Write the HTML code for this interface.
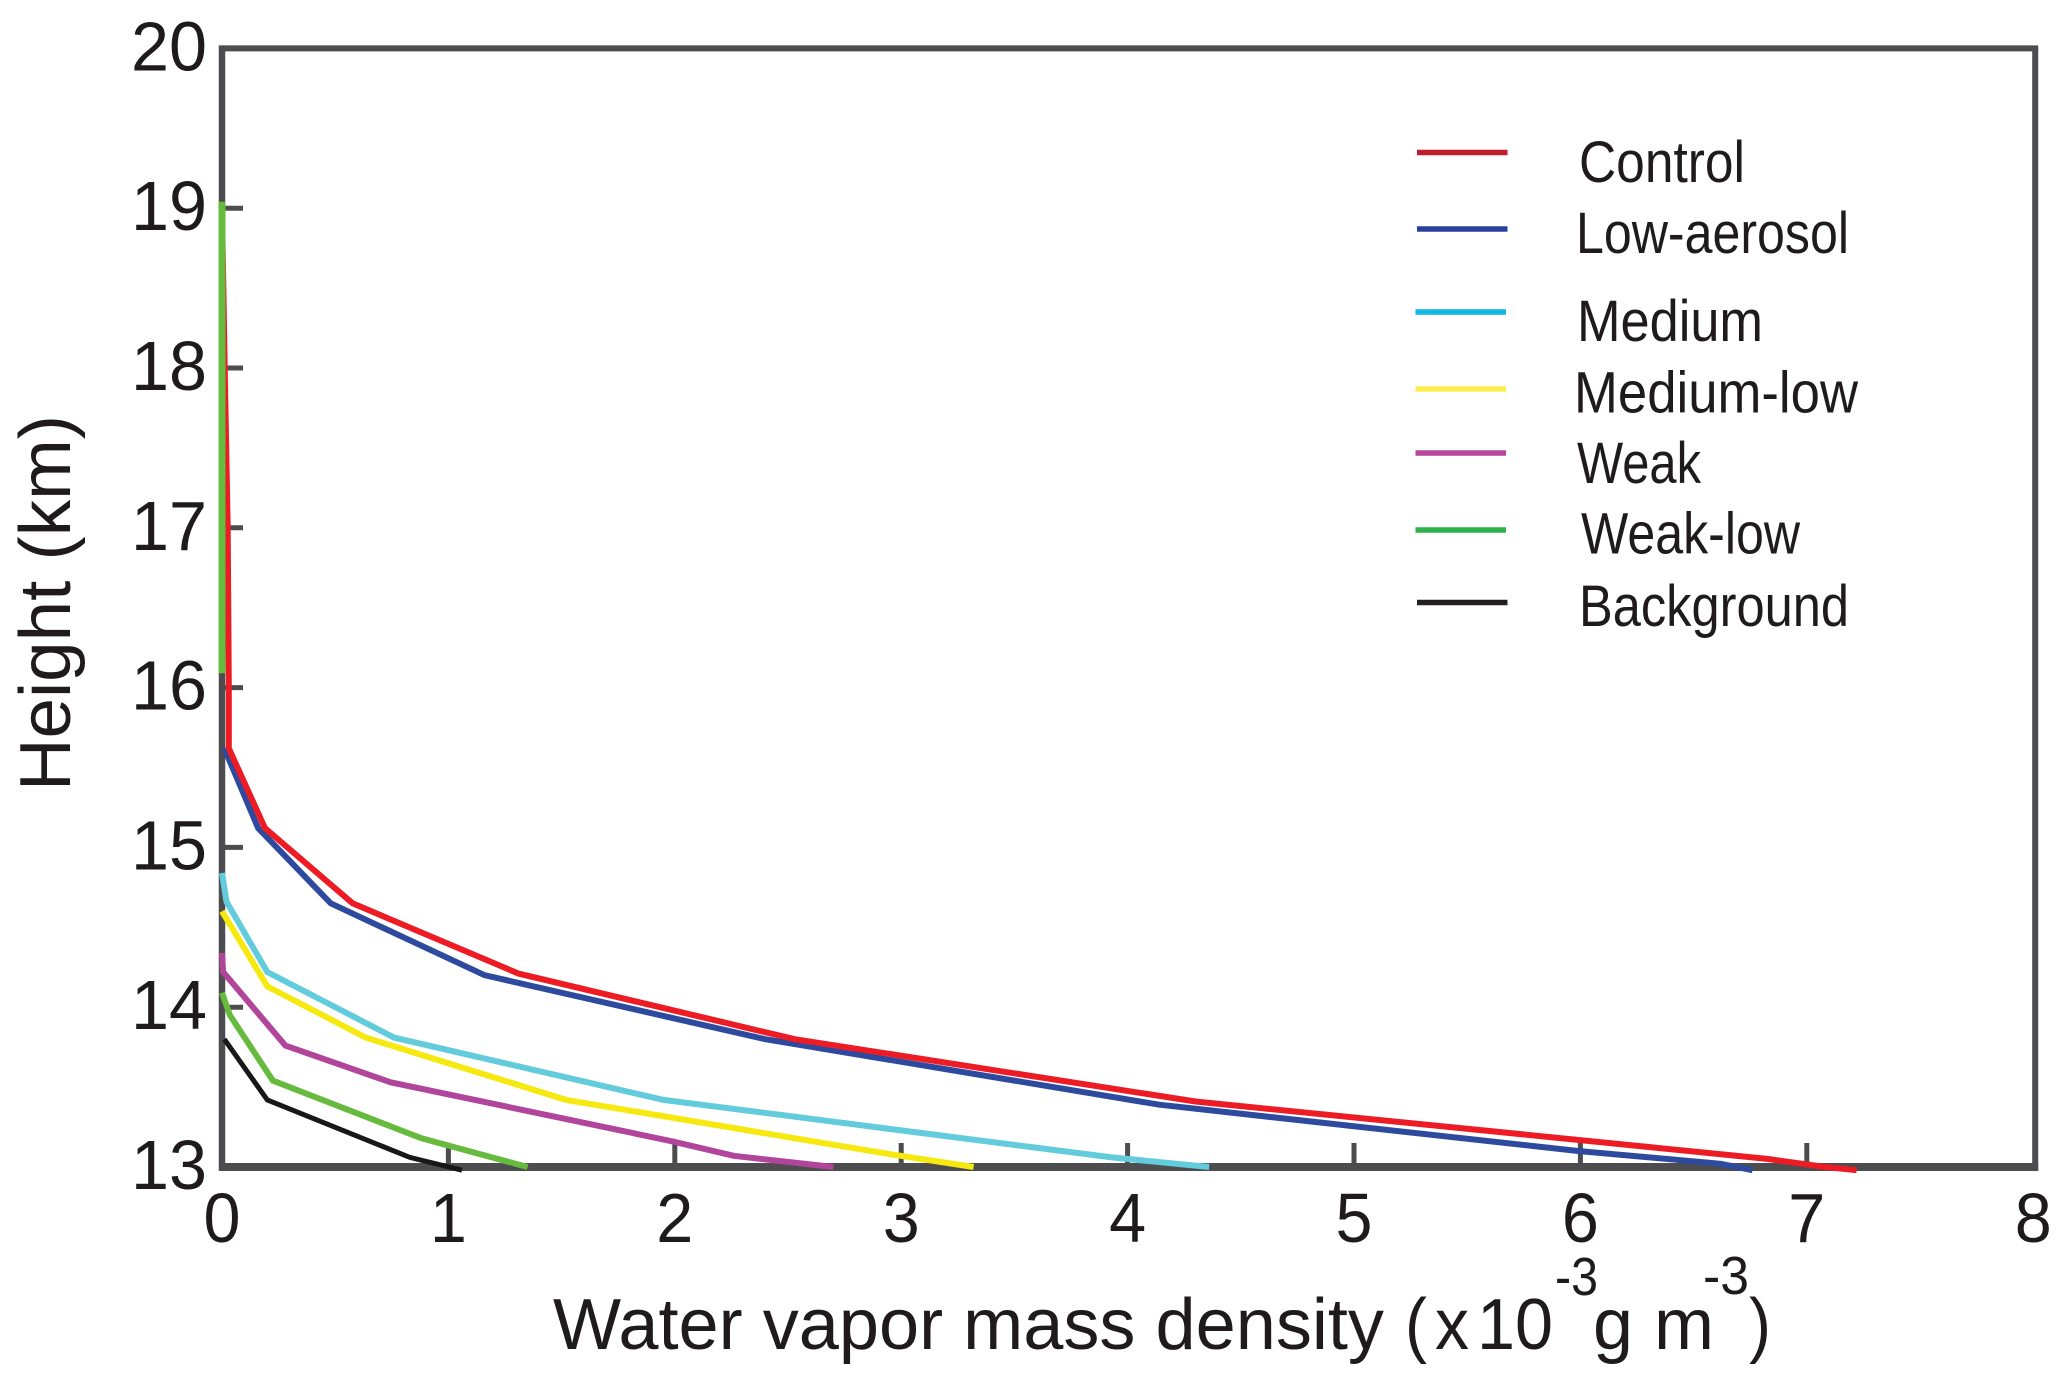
<!DOCTYPE html>
<html lang="en">
<head>
<meta charset="utf-8">
<title>Water vapor mass density profile</title>
<style>
  html, body { margin: 0; padding: 0; background: #fff; }
  svg { display: block; }
  text { font-family: "Liberation Sans", sans-serif; fill: #1f1b1c; }
</style>
</head>
<body>
<svg id="chart" xmlns="http://www.w3.org/2000/svg" width="2067" height="1385" viewBox="0 0 2067 1385">
  <rect x="0" y="0" width="2067" height="1385" fill="#ffffff"/>

  <g id="ticks"></g>
  <g id="tick-labels"></g>
  <g id="frame"></g>
  <g id="series"></g>

  <text transform="translate(70,791) rotate(-90)" font-size="72" textLength="376" lengthAdjust="spacingAndGlyphs">Height (km)</text>

  <g font-size="72">
    <text x="553" y="1349" textLength="831" lengthAdjust="spacingAndGlyphs">Water vapor mass density</text>
    <text x="1405" y="1349" textLength="22" lengthAdjust="spacingAndGlyphs">(</text>
    <text x="1435" y="1349" textLength="34" lengthAdjust="spacingAndGlyphs">x</text>
    <text x="1477" y="1349" textLength="76" lengthAdjust="spacingAndGlyphs">10</text>
    <text x="1555" y="1295" font-size="54" textLength="43" lengthAdjust="spacingAndGlyphs">-3</text>
    <text x="1593" y="1349" textLength="40" lengthAdjust="spacingAndGlyphs">g</text>
    <text x="1654" y="1349" textLength="60" lengthAdjust="spacingAndGlyphs">m</text>
    <text x="1703" y="1294" font-size="54" textLength="46" lengthAdjust="spacingAndGlyphs">-3</text>
    <text x="1749" y="1349" textLength="22" lengthAdjust="spacingAndGlyphs">)</text>
  </g>

  <g font-size="58">
    <g>
      <line x1="1417" x2="1507.5" y1="152.5" y2="152.5" stroke="#be1e2d" stroke-width="5.5"/>
      <text x="1579" y="182" textLength="166" lengthAdjust="spacingAndGlyphs">Control</text>
    </g>
    <g>
      <line x1="1417" x2="1507.5" y1="229" y2="229" stroke="#2b3f9e" stroke-width="5.5"/>
      <text x="1576" y="253" textLength="273" lengthAdjust="spacingAndGlyphs">Low-aerosol</text>
    </g>
    <g>
      <line x1="1415.5" x2="1506" y1="312" y2="312" stroke="#0fb9e0" stroke-width="5.5"/>
      <text x="1577" y="341" textLength="186" lengthAdjust="spacingAndGlyphs">Medium</text>
    </g>
    <g>
      <line x1="1415.5" x2="1506" y1="389" y2="389" stroke="#fdee4f" stroke-width="5.5"/>
      <text x="1574" y="412.5" textLength="284" lengthAdjust="spacingAndGlyphs">Medium-low</text>
    </g>
    <g>
      <line x1="1415.5" x2="1506" y1="453" y2="453" stroke="#b9459c" stroke-width="5.5"/>
      <text x="1577" y="483" textLength="124" lengthAdjust="spacingAndGlyphs">Weak</text>
    </g>
    <g>
      <line x1="1415.5" x2="1506" y1="530" y2="530" stroke="#2bb34a" stroke-width="5.5"/>
      <text x="1581" y="553.5" textLength="219" lengthAdjust="spacingAndGlyphs">Weak-low</text>
    </g>
    <g>
      <line x1="1417" x2="1507.5" y1="602.5" y2="602.5" stroke="#231f20" stroke-width="5.5"/>
      <text x="1579" y="626" textLength="270" lengthAdjust="spacingAndGlyphs">Background</text>
    </g>
  </g>
</svg>

<script>
const xTicks = [0, 1, 2, 3, 4, 5, 6, 7, 8];
const yTicks = [13, 14, 15, 16, 17, 18, 19, 20];

const backgroundX = [0.01, 0.20, 0.83, 1.06];
const backgroundH = [13.80, 13.42, 13.06, 12.98];

const weakLowUpperX = [0, 0];
const weakLowUpperH = [19.04, 16.09];
const weakLowX = [0, 0.035, 0.225, 0.88, 1.35];
const weakLowH = [14.09, 13.95, 13.54, 13.18, 13.00];

const weakX = [0, 0.005, 0.28, 0.745, 1.99, 2.26, 2.70];
const weakH = [14.34, 14.22, 13.76, 13.53, 13.16, 13.07, 13.00];

const mediumLowX = [0, 0.20, 0.635, 1.52, 2.95, 3.32];
const mediumLowH = [14.60, 14.13, 13.81, 13.42, 13.08, 13.00];

const mediumX = [0, 0.02, 0.20, 0.76, 1.95, 3.93, 4.36];
const mediumH = [14.84, 14.66, 14.22, 13.81, 13.42, 13.06, 13.00];

const lowAerosolX = [0.01, 0.16, 0.48, 1.16, 2.40, 4.14, 5.99, 6.62, 6.76];
const lowAerosolH = [15.62, 15.12, 14.65, 14.20, 13.80, 13.39, 13.10, 13.02, 12.98];

const controlX = [0, 0.012, 0.025, 0.03, 0.03, 0.19, 0.577, 1.31, 2.53, 4.30, 6.83, 7.08, 7.22];
const controlH = [19.00, 18.00, 17.00, 16.00, 15.62, 15.12, 14.65, 14.21, 13.80, 13.41, 13.05, 13.00, 12.98];

const NS = 'http://www.w3.org/2000/svg';
const xScale = v => 222 + v * 226.4;
const yScale = h => 1167 - (h - 13) * 159.8;

function add(parentId, tag, attrs, text) {
  const el = document.createElementNS(NS, tag);
  for (const k in attrs) el.setAttribute(k, attrs[k]);
  if (text !== undefined) el.textContent = text;
  document.getElementById(parentId).appendChild(el);
  return el;
}

const frameColor = '#4d4d4f';

xTicks.forEach(function (v) {
  if (v > 0 && v < 8) {
    const t = add('ticks', 'line', { x1: xScale(v), x2: xScale(v), y1: yScale(13), y2: yScale(13) - 24, stroke: frameColor, 'stroke-width': 5 });
    
    
  }
  const l = add('tick-labels', 'text', { x: xScale(v), y: 1242, 'font-size': 70, 'text-anchor': 'middle', textLength: 37, lengthAdjust: 'spacingAndGlyphs' }, String(v));
  
  
});

yTicks.forEach(function (h) {
  if (h > 13 && h < 20) {
    const t = add('ticks', 'line', { x1: xScale(0), x2: xScale(0) + 21, y1: yScale(h), y2: yScale(h), stroke: frameColor, 'stroke-width': 5 });
    
    
  }
  const l = add('tick-labels', 'text', { x: 131, y: yScale(h) + 22, 'font-size': 70, textLength: 76, lengthAdjust: 'spacingAndGlyphs' }, String(h));
  
  
});

const frameLeft = add('frame', 'line', { x1: xScale(0), x2: xScale(0), y1: yScale(20) - 3, y2: yScale(13) + 4, stroke: frameColor, 'stroke-width': 6.5 });


const frameTop = add('frame', 'line', { x1: xScale(0), x2: xScale(8) + 5, y1: yScale(20), y2: yScale(20), stroke: frameColor, 'stroke-width': 6 });


const frameRight = add('frame', 'line', { x1: xScale(8) + 2, x2: xScale(8) + 2, y1: yScale(20), y2: yScale(13) + 4, stroke: frameColor, 'stroke-width': 6 });


const frameBottom = add('frame', 'line', { x1: xScale(0), x2: xScale(8) + 5, y1: yScale(13), y2: yScale(13), stroke: frameColor, 'stroke-width': 8 });



function drawSeries(name, xs, hs, color, width) {
  const pts = xs.map((v, i) => xScale(v).toFixed(1) + ',' + yScale(hs[i]).toFixed(1)).join(' ');
  const p = add('series', 'polyline', { points: pts, fill: 'none', stroke: color, 'stroke-width': width, 'stroke-linejoin': 'miter', 'stroke-linecap': 'butt' });
  
  
}

drawSeries('series-low-aerosol', lowAerosolX, lowAerosolH, '#2e4a9e', 6);
drawSeries('series-control', controlX, controlH, '#ed1c24', 6);
drawSeries('series-background', backgroundX, backgroundH, '#1a1718', 5);
drawSeries('series-weak-low-upper', weakLowUpperX, weakLowUpperH, '#66bb3f', 7);
drawSeries('series-weak-low', weakLowX, weakLowH, '#66bb3f', 6);
drawSeries('series-weak', weakX, weakH, '#b0459b', 6);
drawSeries('series-medium-low', mediumLowX, mediumLowH, '#f5e90f', 6);
drawSeries('series-medium', mediumX, mediumH, '#62cbdc', 6);
</script>
</body>
</html>
